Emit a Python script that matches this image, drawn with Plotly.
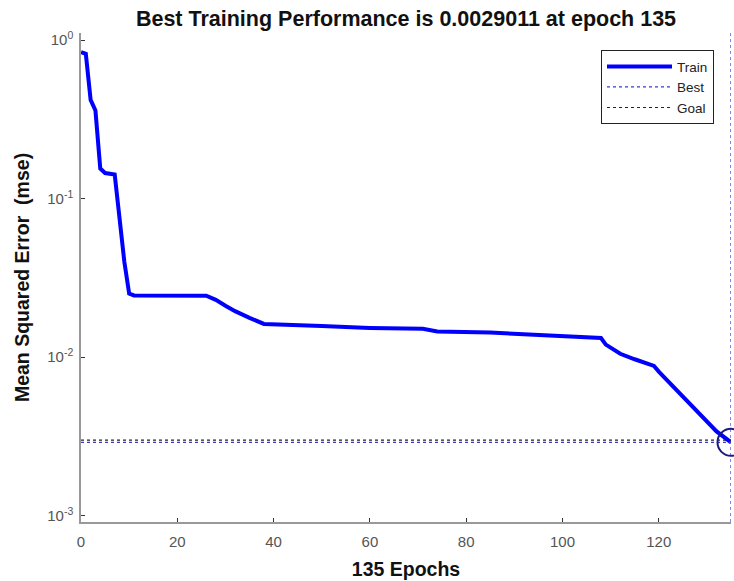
import math
import plotly.graph_objects as go

epochs = [0, 1, 2, 3, 4, 5, 7, 8, 9, 10, 11, 26, 28, 30, 32, 35, 38, 50, 60, 71, 74, 85,
          100, 108, 109, 112, 115, 119, 120, 122, 124, 126, 128, 130, 132, 135]
train_mse = [0.84, 0.82, 0.42, 0.36, 0.155, 0.145, 0.142, 0.072, 0.040, 0.0252, 0.0245, 0.0244,
             0.023, 0.0211, 0.0195, 0.0177, 0.0162, 0.0157, 0.0153, 0.0151, 0.0145, 0.0143,
             0.0137, 0.0132, 0.0120, 0.0105, 0.0097, 0.0088, 0.0081, 0.0070, 0.0061, 0.0052,
             0.0045, 0.0039, 0.0034, 0.0029011]
best_epoch = 135
best_perf = 0.0029011
goal = 0.003
x_range = [0, 135]
y_log_range = [-3.04, 0.045]
y_tick_vals = [1e-3, 1e-2, 1e-1, 1e0]
y_tick_text = ["10<sup>-3</sup>", "10<sup>-2</sup>", "10<sup>-1</sup>", "10<sup>0</sup>"]
x_tick_vals = [0, 20, 40, 60, 80, 100, 120]
minor_vals = [m * d for d in (1e-3, 1e-2, 1e-1) for m in range(2, 10)]

font = "Liberation Sans, Arial, Helvetica, sans-serif"
title_txt = f"<b>Best Training Performance is {best_perf} at epoch {best_epoch}</b>"

fig = go.Figure()
fig.add_trace(go.Scatter(x=epochs, y=train_mse, mode="lines", name="Train",
                         line=dict(color="#0000ff", width=4)))
fig.add_trace(go.Scatter(x=x_range, y=[best_perf, best_perf], mode="lines", name="Best",
                         line=dict(color="#3a3ad0", width=1.2, dash="dot")))
fig.add_trace(go.Scatter(x=x_range, y=[goal, goal], mode="lines", name="Goal",
                         line=dict(color="#222222", width=1.2, dash="dot")))
fig.add_trace(go.Scatter(x=[best_epoch, best_epoch],
                         y=[10 ** y_log_range[0], 10 ** y_log_range[1]], mode="lines",
                         showlegend=False, line=dict(color="#3a3ad0", width=1.2, dash="dot")))
fig.add_trace(go.Scatter(x=[best_epoch], y=[best_perf], mode="markers", showlegend=False,
                         cliponaxis=False,
                         marker=dict(symbol="circle-open", size=27, color="#1a1a80",
                                     line=dict(width=2, color="#1a1a80"))))

# minor ticks on the log y axis (drawn as short shapes inside the left axis)
for v in minor_vals:
    fig.add_shape(type="line", xref="x domain", yref="y", x0=0, x1=0.0055,
                  y0=math.log10(v), y1=math.log10(v),
                  line=dict(color="#777777", width=1), layer="above")

fig.update_layout(
    width=734, height=581,
    margin=dict(l=81, r=3, t=33, b=59),
    paper_bgcolor="white", plot_bgcolor="white",
    font=dict(family=font, size=15, color="#555555"),
    title=dict(text=title_txt, xref="paper", x=0.5, xanchor="center",
               y=0.969, yanchor="middle",
               font=dict(family=font, size=21.5, color="#111111")),
    showlegend=True,
    legend=dict(x=0.8, y=0.965, xanchor="left", yanchor="top",
                bgcolor="white", bordercolor="#222222", borderwidth=1,
                font=dict(family=font, size=13.5, color="#222222"),
                tracegroupgap=0, itemwidth=65),
    xaxis=dict(range=x_range, tickvals=x_tick_vals, ticks="inside", ticklen=4,
               tickcolor="#333333", showline=True, linecolor="#999999", linewidth=1.5,
               showgrid=False, zeroline=False, mirror=False, ticklabelstandoff=5,
               title=dict(text="<b>135 Epochs</b>", standoff=14,
                          font=dict(family=font, size=19.5, color="#111111"))),
    yaxis=dict(type="log", range=y_log_range, tickvals=y_tick_vals, ticktext=y_tick_text,
               ticks="inside", ticklen=4, tickcolor="#333333", ticklabelstandoff=3,
               showline=True, linecolor="#999999", linewidth=1.5,
               showgrid=False, zeroline=False,
               title=dict(text="<b>Mean Squared Error  (mse)</b>", standoff=12,
                          font=dict(family=font, size=19.5, color="#111111"))),
)

fig.write_html("out.html", config={"displayModeBar": False},
               post_script="document.body.style.margin='0';")
